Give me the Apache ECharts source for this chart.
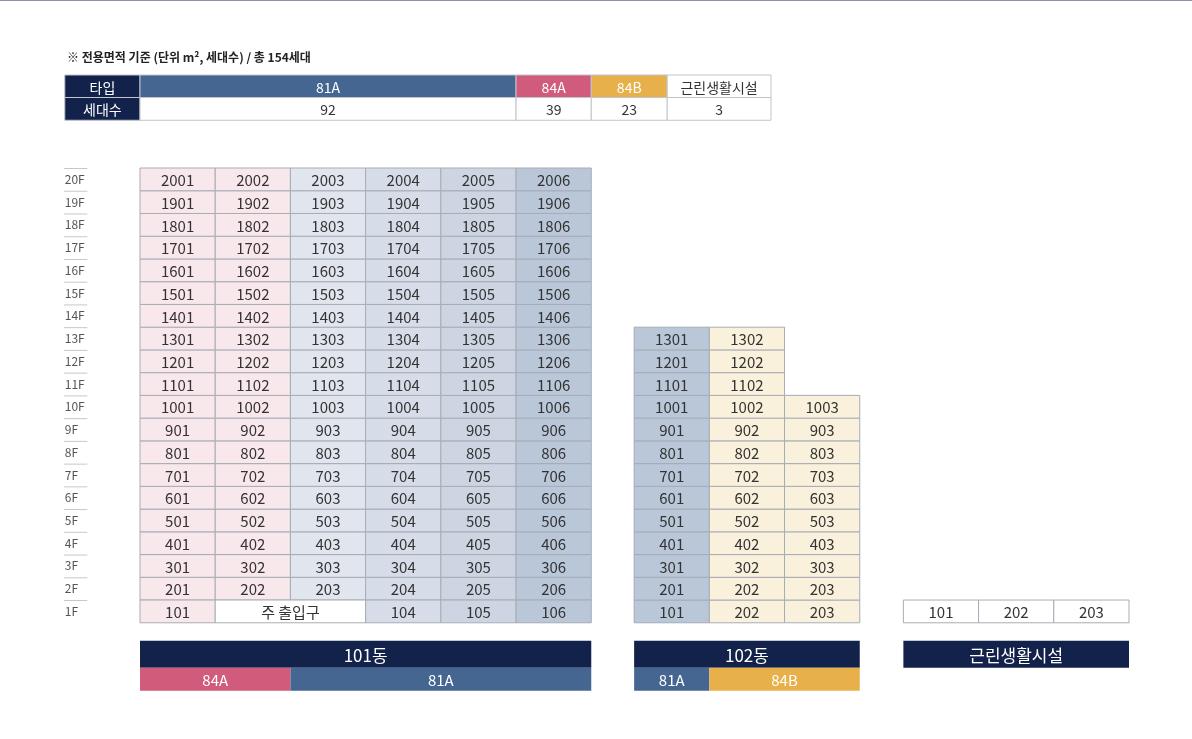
<!DOCTYPE html>
<html><head><meta charset="utf-8">
<script src="https://cdn.jsdelivr.net/npm/echarts@6/dist/echarts.min.js"></script>
<style>html,body{margin:0;padding:0;background:#fff}#main{width:1192px;height:739px}</style>
</head><body><div id="main"></div>
<script>
// data
var floors = [1,2,3,4,5,6,7,8,9,10,11,12,13,14,15,16,17,18,19,20];
var b101Cols = [1,2,3,4,5,6];
var b101Colors = ['#f8e8ec','#f8e8ec','#e1e6ee','#d6dde8','#cdd5e3','#b9c7d9'];
var b101Ground = ['101','주 출입구','104','105','106'];
var b102Top = [13,13,10];
var b102Colors = ['#b9c7d9','#faf1dc','#faf1dc'];
var b102Ground = ['101','202','203'];
var shopUnits = ['101','202','203'];
var typeNames = ['81A','84A','84B','근린생활시설'];
var typeCounts = [92,39,23,3];
var typeColors = ['#456690','#d05b7b','#e8b04a','#ffffff'];

// x start of each building in column units
var x101 = 0, x102 = 6.57, xShop = 10.15;
var cells = [];
function cell(x0,x1,y0,y1,text,fill,opt){
    opt = opt || {};
    cells.push({v:[x0,y0,x1,y1], text:text, fill:fill, color:opt.color||'#333', size:opt.size||15,
        stroke:opt.stroke===undefined?'#a7acb5':opt.stroke, bold:opt.bold});
}
// floor labels
floors.forEach(function(f){ cell(-1,-0.7,f-1,f,f+'F',null,{color:'#555',size:12,stroke:'floor'}); });
// 101동
floors.forEach(function(f){
    if (f===1) return;
    b101Cols.forEach(function(c,i){ cell(x101+i,x101+i+1,f-1,f,String(f*100+c),b101Colors[i]); });
});
cell(0,1,0,1,b101Ground[0],b101Colors[0]);
cell(1,3,0,1,b101Ground[1],'#ffffff');
for (var i=3;i<6;i++) cell(i,i+1,0,1,b101Ground[i-1],b101Colors[i]);
// 102동
b102Top.forEach(function(top,i){
    for (var f=1; f<=top; f++){
        cell(x102+i,x102+i+1,f-1,f,f===1?b102Ground[i]:String(f*100+i+1),b102Colors[i]);
    }
});
// 근린
shopUnits.forEach(function(u,i){ cell(xShop+i,xShop+i+1,0,1,u,'#ffffff'); });
// bottom bars
var dark = '#12224a';
cell(0,6,-1.98,-0.79,'101동',dark,{color:'#fff',size:17,stroke:null});
cell(0,2,-2.99,-1.98,'84A',typeColors[1],{color:'#fff',size:15,stroke:null});
cell(2,6,-2.99,-1.98,'81A',typeColors[0],{color:'#fff',size:15,stroke:null});
cell(x102,x102+3,-1.98,-0.79,'102동',dark,{color:'#fff',size:17,stroke:null});
cell(x102,x102+1,-2.99,-1.98,'81A',typeColors[0],{color:'#fff',size:15,stroke:null});
cell(x102+1,x102+3,-2.99,-1.98,'84B',typeColors[2],{color:'#fff',size:15,stroke:null});
cell(xShop,xShop+3,-1.98,-0.79,'근린생활시설',dark,{color:'#fff',size:17,stroke:null});
// top table
var tEdges = [0,5,6,7.01,8.39];
cell(-1,0,23.1,24.09,'타입',dark,{color:'#fff',size:14,stroke:'#c0c4cc'});
cell(-1,0,22.1,23.1,'세대수',dark,{color:'#fff',size:14,stroke:'#c0c4cc'});
typeNames.forEach(function(n,i){
    cell(tEdges[i],tEdges[i+1],23.1,24.09,n,typeColors[i],{color:i===3?'#333':'#fff',size:14,stroke:'#c0c4cc'});
    cell(tEdges[i],tEdges[i+1],22.1,23.1,String(typeCounts[i]),'#ffffff',{size:14,stroke:'#c0c4cc'});
});

var myChart = echarts.init(document.getElementById('main'));
var option = {
    animation: false,
    title: {
        text: '※ 전용면적 기준 (단위 m², 세대수) / 총 154세대',
        left: 62, top: 46,
        textStyle: {fontSize: 12, fontWeight: 'bold', color: '#222', fontFamily: 'Noto Sans CJK KR'}
    },
    graphic: [{type:'line', shape:{x1:0,y1:0.5,x2:1192,y2:0.5}, style:{stroke:'#8a93a3',lineWidth:1}}],
    grid: {left: 140, right: 63, top: 75, bottom: 48},
    xAxis: {type:'value', min:0, max:13.15, show:false},
    yAxis: {type:'value', min:-3, max:24.09, show:false},
    series: [{
        type: 'custom',
        clip: false,
        data: cells.map(function(c){ return c.v; }),
        renderItem: function(params, api){
            var c = cells[params.dataIndex];
            var p0 = api.coord([api.value(0), api.value(3)]);
            var p1 = api.coord([api.value(2), api.value(1)]);
            var w = p1[0]-p0[0], h = p1[1]-p0[1];
            var font = (c.bold?'bold ':'') + c.size + 'px "Noto Sans CJK KR"';
            if (c.stroke === 'floor') {
                return {type:'group', children:[
                    {type:'line', shape:{x1:p0[0]-1,y1:p0[1]+0.5,x2:p1[0],y2:p0[1]+0.5}, style:{stroke:'#c4c8ce',lineWidth:1}},
                    {type:'text', style:{x:p0[0],y:p0[1]+h/2,text:c.text,font:font,fill:c.color,verticalAlign:'middle'}}
                ]};
            }
            return {type:'group', children:[
                {type:'rect', shape:{x:p0[0],y:p0[1],width:w,height:h},
                 style:{fill:c.fill||'none', stroke:c.stroke||null, lineWidth:1}},
                {type:'text', style:{x:p0[0]+w/2,y:p0[1]+h/2+1,text:c.text,font:font,fill:c.color,
                 align:'center',verticalAlign:'middle'}}
            ]};
        }
    }]
};
myChart.setOption(option, true);
</script>
</body></html>
